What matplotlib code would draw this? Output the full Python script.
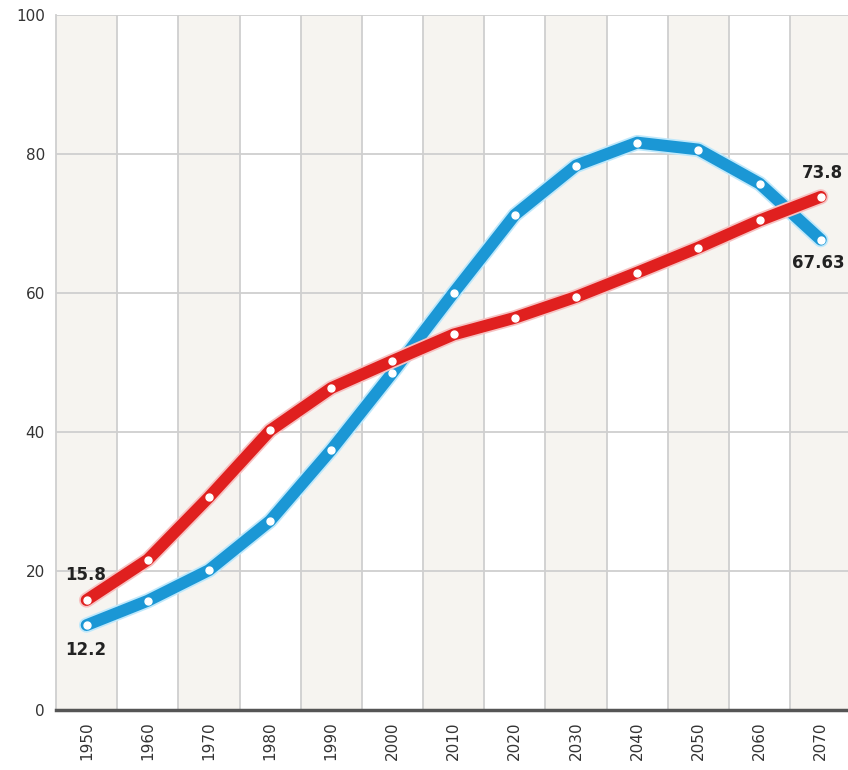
import matplotlib.pyplot as plt
import matplotlib.patheffects as pe
import numpy as np

# decades on the x axis
years = [1950, 1960, 1970, 1980, 1990, 2000, 2010, 2020, 2030, 2040, 2050, 2060, 2070]

# values
blue_values = [12.2, 15.7, 20.1, 27.2, 37.4, 48.5, 60.0, 71.2, 78.3, 81.6, 80.6, 75.7, 67.63]
red_values = [15.8, 21.6, 30.6, 40.2, 46.3, 50.2, 54.0, 56.4, 59.4, 62.9, 66.5, 70.4, 73.8]

y_ticks = [0, 20, 40, 60, 80, 100]

blue = "#1b97d5"
red = "#e0201f"

fig = plt.figure(figsize=(8.48, 7.7), dpi=100)
ax = fig.add_axes([0.066, 0.078, 0.938, 0.903])

# alternating column bands
for i, yr in enumerate(years):
    if i % 2 == 0:
        ax.axvspan(yr - 5, yr + 5, color="#f6f4f0", zorder=0, lw=0)
    ax.axvline(yr + 5, color="#cfcfcf", lw=1.3, zorder=1)

for t in y_ticks[1:]:
    ax.axhline(t, color="#cfcfcf", lw=1.3, zorder=1)

# the two lines with a light halo
ax.plot(years, blue_values, color=blue, lw=8.5, solid_joinstyle="round",
        solid_capstyle="round", zorder=3,
        path_effects=[pe.Stroke(linewidth=11, foreground="#bfe8fb"), pe.Normal()])
ax.plot(years, blue_values, ls="none", marker="o", ms=5, mfc="white",
        mec="white", zorder=5)

ax.plot(years, red_values, color=red, lw=8.5, solid_joinstyle="round",
        solid_capstyle="round", zorder=4,
        path_effects=[pe.Stroke(linewidth=11, foreground="#f6c2c2"), pe.Normal()])
ax.plot(years, red_values, ls="none", marker="o", ms=5, mfc="white",
        mec="white", zorder=6)

# end labels
lab = dict(fontsize=12, fontweight="bold", color="#222222", zorder=7)
ax.text(years[0] - 3.5, red_values[0] + 2.3, "15.8", ha="left", va="bottom", **lab)
ax.text(years[0] - 3.5, blue_values[0] - 2.3, "12.2", ha="left", va="top", **lab)
ax.text(years[-1] + 3.6, red_values[-1] + 2.2, "73.8", ha="right", va="bottom", **lab)
ax.text(years[-1] + 3.9, blue_values[-1] - 2.0, "67.63", ha="right", va="top", **lab)

ax.set_xlim(1945, 2075)
ax.set_ylim(0, 100)
ax.set_xticks(years)
ax.set_xticklabels([str(y) for y in years], rotation=90, fontsize=11, color="#333333")
ax.set_yticks(y_ticks)
ax.set_yticklabels([str(t) for t in y_ticks], fontsize=11, color="#333333")
ax.tick_params(length=0, pad=8)

for s in ["top", "right"]:
    ax.spines[s].set_visible(False)
ax.spines["left"].set_color("#cfcfcf")
ax.spines["left"].set_linewidth(1.3)
ax.spines["bottom"].set_color("#555555")
ax.spines["bottom"].set_linewidth(2.5)
ax.spines["bottom"].set_zorder(8)

fig.savefig("out.png", dpi=100)
